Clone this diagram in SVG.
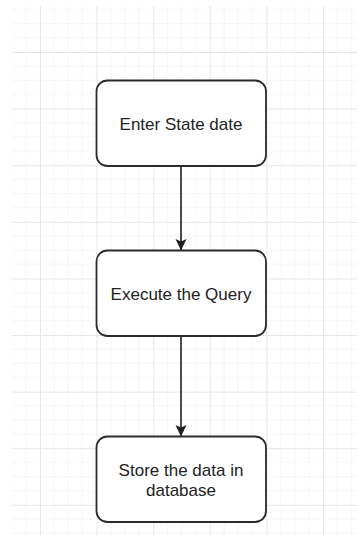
<svg xmlns="http://www.w3.org/2000/svg" width="357" height="535" viewBox="0 0 357 535">
  <style>
    .box { fill: #ffffff; stroke: #2b2b2b; stroke-width: 1.8; }
    .lbl { font-family: "Liberation Sans", Arial, sans-serif; font-size: 17px; fill: #222222; text-anchor: middle; }
    .edge { stroke: #1f1f1f; stroke-width: 1.6; fill: none; }
  </style>
  <defs>
    <pattern id="grid" patternUnits="userSpaceOnUse" x="40" y="52" width="56.6" height="56.6">
      <path d="M14.15 0V56.6M28.3 0V56.6M42.45 0V56.6M0 14.15H56.6M0 28.3H56.6M0 42.45H56.6" stroke="#f5f5f5" stroke-width="1" fill="none"/>
      <path d="M0.5 0V56.6M0 0.5H56.6" stroke="#e6e6e6" stroke-width="1" fill="none"/>
    </pattern>
    <marker id="arrow" viewBox="0 0 12 12" refX="11" refY="6" markerWidth="12" markerHeight="12" markerUnits="userSpaceOnUse" orient="auto">
      <path d="M0 0.5 L11.5 6 L0 11.5 L2.5 6 Z" fill="#1f1f1f"/>
    </marker>
  </defs>
  <rect width="357" height="535" fill="#ffffff"/>
  <rect x="12" y="6" width="345" height="529" fill="url(#grid)"/>
  <g id="connectors">
    <line class="edge" x1="181" y1="166" x2="181" y2="250" marker-end="url(#arrow)"/>
    <line class="edge" x1="181" y1="336" x2="181" y2="436" marker-end="url(#arrow)"/>
  </g>
  <g id="node1">
    <rect class="box" x="96.5" y="80.5" width="169.5" height="85.5" rx="11"/>
    <text class="lbl" x="181" y="130">Enter State date</text>
  </g>
  <g id="node2">
    <rect class="box" x="96.5" y="250.5" width="169.5" height="85.5" rx="11"/>
    <text class="lbl" x="181" y="300">Execute the Query</text>
  </g>
  <g id="node3">
    <rect class="box" x="96.5" y="436.5" width="169.5" height="85.5" rx="11"/>
    <text class="lbl" x="181" y="476">Store the data in</text>
    <text class="lbl" x="181" y="496">database</text>
  </g>
</svg>
